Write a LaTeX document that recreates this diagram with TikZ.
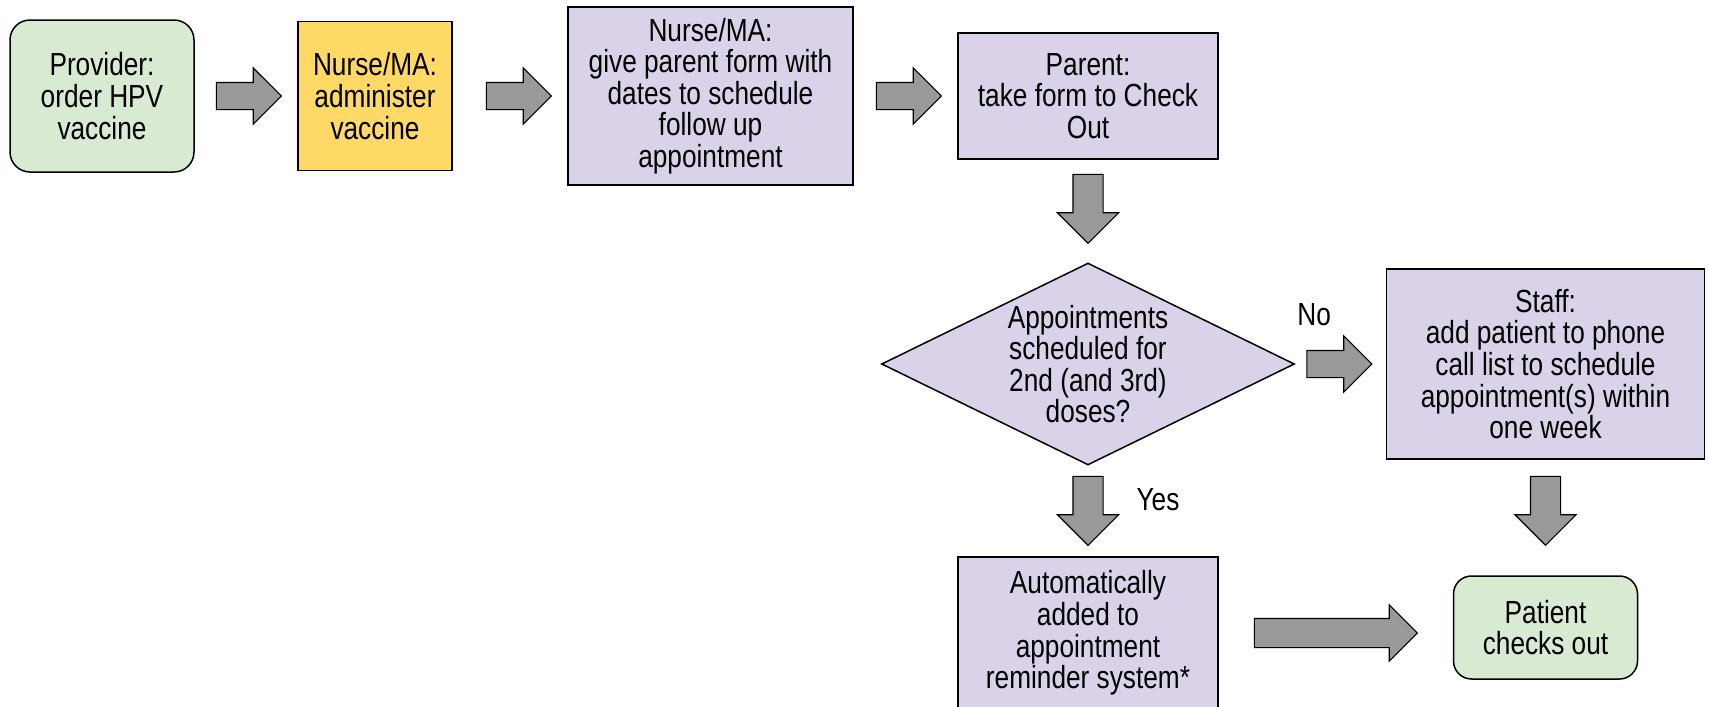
\documentclass[tikz,border=0pt]{standalone}
\usepackage{fontspec}
\newfontfamily\chartfont{Liberation Sans}[FakeStretch=0.82]
\usetikzlibrary{shapes.geometric,shapes.arrows,positioning,calc}
\definecolor{termgreen}{HTML}{D9EAD3}
\definecolor{admyellow}{HTML}{FFD966}
\definecolor{taskpurple}{HTML}{D9D2E9}
\definecolor{arrowgray}{HTML}{999999}

\begin{document}
\begin{tikzpicture}[x=0.5pt,y=-0.5pt,on grid,
  every node/.style={font=\chartfont\fontsize{16}{15.8}\selectfont},
  box/.style={draw,line width=0.75pt,align=center,inner sep=0pt},
  terminal/.style={box,rounded corners=10pt,fill=termgreen},
  task/.style={box,fill=taskpurple},
  decision/.style={box,diamond,aspect=2,fill=taskpurple,inner sep=-2pt,
    minimum width=206.5pt,minimum height=101pt},
  blockarrow/.style={single arrow,draw,fill=arrowgray,line width=0.6pt,
    single arrow tip angle=90,inner xsep=0pt,anchor=tail},
  harrow/.style={blockarrow,inner ysep=6.5pt,single arrow head extend=7.25pt,
    minimum height=32.5pt},
  varrow/.style={blockarrow,rotate=-90,inner ysep=7.25pt,
    single arrow head extend=7.75pt,minimum height=34.5pt}]
  \fill[white] (0,0) rectangle (1710,707);
  \path[use as bounding box,clip] (0,0) rectangle (1710,707);

  % top row
  \node[terminal,minimum width=92pt,minimum height=76pt] (prov) at (102,96)
    {Provider:\\order HPV\\vaccine};
  \node[task,fill=admyellow,minimum width=77pt,minimum height=74.5pt] (admin)
    [right=136.5pt of prov] {Nurse/MA:\\administer\\vaccine};
  \node[task,minimum width=142.5pt,minimum height=89pt] (form)
    [right=167.75pt of admin]
    {Nurse/MA:\\give parent form with\\dates to schedule\\follow up\\appointment};
  \node[task,minimum width=130pt,minimum height=63pt] (parent)
    [right=188.75pt of form] {Parent:\\take form to Check\\Out};

  % decision and branches
  \node[decision] (dec) [below=134pt of parent]
    {Appointments\\scheduled for\\2nd (and 3rd)\\doses?};
  \node[task,minimum width=159pt,minimum height=95pt] (staff)
    [right=228.75pt of dec]
    {Staff:\\add patient to phone\\call list to schedule\\appointment(s) within\\one week};
  \node[task,minimum width=130pt,minimum height=76pt] (auto)
    [below=134.5pt of dec]
    {Automatically\\added to\\appointment\\reminder system*};
  \node[terminal,rounded corners=9pt,minimum width=92pt,minimum height=51.5pt]
    (patient) [below=131.75pt of staff] {Patient\\checks out};

  % block arrows, tail at a gap after the node they leave
  \node[harrow] (a1) at ([xshift=10.5pt]prov.east) {};
  \node[harrow] (a2) at ([xshift=16.5pt]admin.east) {};
  \node[harrow] (a3) at ([xshift=11pt]form.east) {};
  \node[varrow] (d1) at ([yshift=-7pt]parent.south) {};
  \node[harrow] (a4) at ([xshift=5.5pt]dec.east) {};
  \node[varrow] (d2) at ([yshift=-5pt]dec.south) {};
  \node[varrow] (d3) at ([yshift=-8pt]staff.south) {};
  \node[harrow,inner ysep=7pt,single arrow head extend=6.75pt,
    minimum height=81.5pt] (a5) at ([xshift=17.5pt]auto.east) {};

  \node (no) at ([shift={(8,-49)}]a4.tail) {No};
  \node (yes) at ([shift={(70,24)}]d2.tail) {Yes};
\end{tikzpicture}
\end{document}
